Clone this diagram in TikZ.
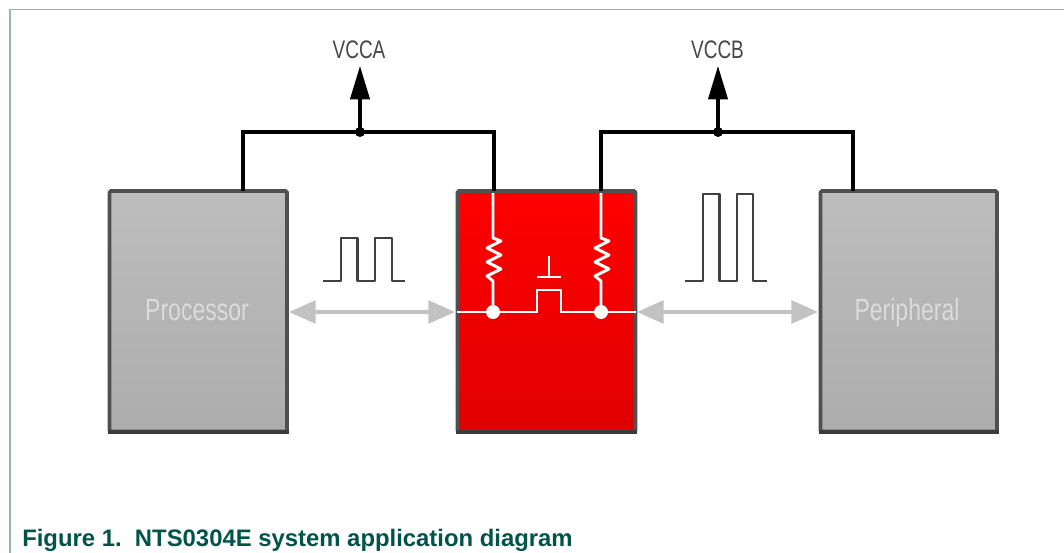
\documentclass[tikz,border=0pt]{standalone}
\usepackage{fontspec}
\setmainfont{Liberation Sans}
\usetikzlibrary{arrows.meta}
\definecolor{frameC}{HTML}{8FB8B4}
\definecolor{capC}{HTML}{00544A}
\definecolor{boxEdge}{HTML}{505050}
\definecolor{boxBase}{HTML}{3C3C3C}
\definecolor{arrC}{HTML}{C2C2C2}
\definecolor{greyTop}{HTML}{BDBDBD}
\definecolor{greyBot}{HTML}{ADADAD}
\definecolor{redBot}{HTML}{E00000}
\newcommand{\narrow}[1]{\scalebox{0.75}[1]{#1}}
\tikzset{
  x=0.75pt,y=-0.75pt,
  wire/.style={draw=black,line width=2.3pt,line join=miter},
  whitewire/.style={draw=white,line width=2.2pt,line join=miter},
  resist/.style={draw=white,line width=2.2pt,line join=round},
  wave/.style={draw=black!75,line width=1.6pt,line join=round},
  greybox/.style={draw=boxEdge,line width=2.7pt,rounded corners=1pt,top color=greyTop,bottom color=greyBot},
  redbox/.style={draw=boxEdge,line width=2.7pt,rounded corners=1pt,top color=red,middle color=red,bottom color=redBot},
  base/.style={draw=boxBase,line width=3.4pt},
  inlabel/.style={inner sep=0pt,anchor=base,text=white!86!black,font=\fontsize{23pt}{25pt}\selectfont},
  vlabel/.style={inner sep=0pt,anchor=base,text=black!72,font=\fontsize{19pt}{21pt}\selectfont},
  dual/.style={draw=arrC,line width=2.8pt,{Triangle[length=20pt,width=17pt]}-{Triangle[length=20pt,width=17pt]}},
  supply/.style={draw=black,line width=2.3pt,-{Triangle[length=25pt,width=14.5pt]}},
}
\begin{document}
\begin{tikzpicture}
\useasboundingbox (0,0) rectangle (1064,553);
\draw[frameC,line width=1.1pt] (10,560) -- (10,9.5) -- (1070,9.5);
% boxes
\draw[greybox] (109.5,191) rectangle (287,431.5);
\draw[redbox] (457.5,191) rectangle (635.5,431.5);
\draw[greybox] (820.5,191) rectangle (997,431.5);
\draw[base] (108,432) -- (288.5,432);
\draw[base] (456,432) -- (637,432);
\draw[base] (819,432) -- (998.5,432);
\coordinate (procT) at (243,191);
\coordinate (perT) at (853,191);
\coordinate (midL) at (494,191);
\coordinate (midR) at (601,191);
\coordinate (jA) at (360,132);
\coordinate (jB) at (718,132);
\node[inlabel] (proc) at (197,320) {\narrow{Processor}};
\node[inlabel] (peri) at (907,320) {\narrow{Peripheral}};
\node[vlabel] (vcca) at (359,58) {\narrow{VCCA}};
\node[vlabel] (vccb) at (717.5,58) {\narrow{VCCB}};
\coordinate (tipA) at (360,66);
\coordinate (tipB) at (718,66);
% supply
\draw[wire] (procT) -- (243,132) -- (494,132) -- (midL);
\draw[wire] (midR) -- (601,132) -- (853,132) -- (perT);
\draw[supply] (jA) -- (tipA);
\draw[supply] (jB) -- (tipB);
\fill (jA) circle (5);
\fill (jB) circle (5);
% arrows
\coordinate (a1) at (289,312); \coordinate (a2) at (455,312);
\coordinate (b1) at (637,312); \coordinate (b2) at (818,312);
\draw[dual] (a1) -- (a2);
\draw[dual] (b1) -- (b2);
% inside
\coordinate (jL) at (493,312); \coordinate (jR) at (601,312);
\draw[whitewire] (457,312) -- (537,312) -- (537,290) -- (561,290) -- (561,312) -- (636,312);
\draw[resist] (493,193) -- (493,238) -- (501,241) -- (487,248) -- (501,255) -- (487,262) -- (501,269) -- (487,276) -- (493,281) -- (jL);
\draw[resist] (601,193) -- (601,238) -- (609,241) -- (595,248) -- (609,255) -- (595,262) -- (609,269) -- (595,276) -- (601,281) -- (jR);
\draw[whitewire] (537,277) -- (561,277);
\draw[whitewire] (549,277) -- (549,256);
\fill[white] (jL) circle (7);
\fill[white] (jR) circle (7);
% waves
\draw[wave] (323,281) -- (341,281) -- (341,238) -- (357.5,238) -- (357.5,281) -- (375,281) -- (375,238) -- (392,238) -- (392,281) -- (405,281);
\draw[wave] (685,281) -- (703,281) -- (703,194) -- (719.5,194) -- (719.5,281) -- (737,281) -- (737,194) -- (753,194) -- (753,281) -- (767,281);
\node[anchor=base west,inner sep=0pt,text=capC,font=\bfseries\fontsize{17.9pt}{20pt}\selectfont] (cap) at (22,546.5) {Figure 1.\ \ NTS0304E system application diagram};
\end{tikzpicture}
\end{document}
